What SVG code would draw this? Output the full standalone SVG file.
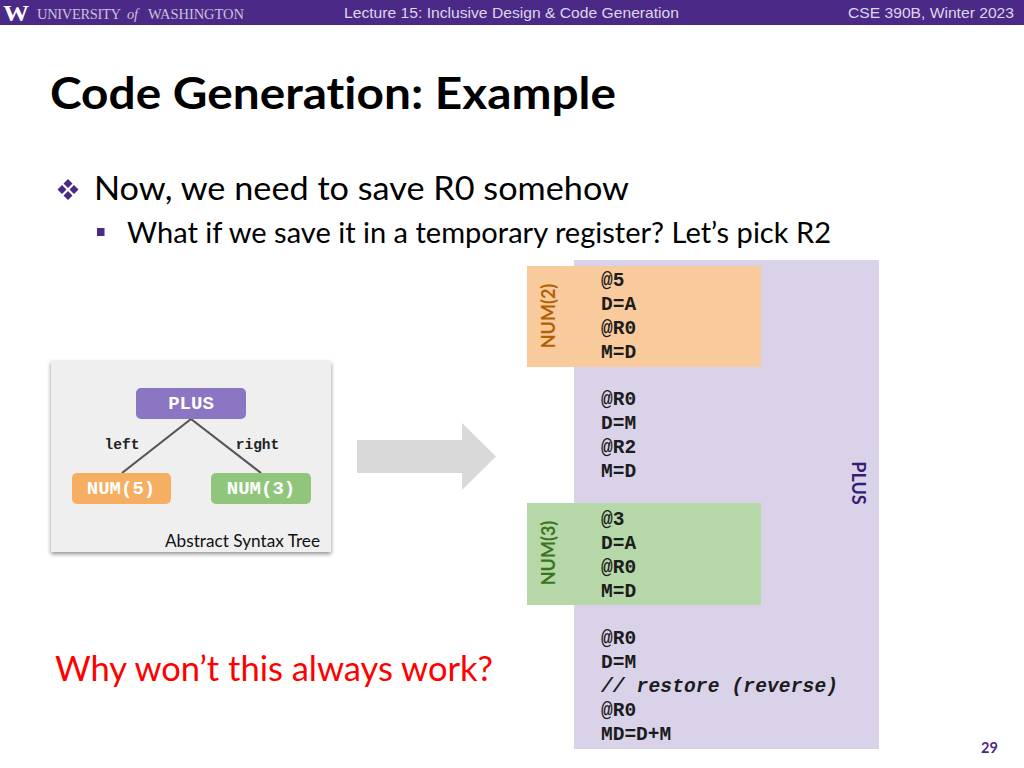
<svg xmlns="http://www.w3.org/2000/svg" width="1024" height="768" viewBox="0 0 1024 768">
<style>
.s{font-family:"Lato","Open Sans","Liberation Sans",sans-serif;font-variant-ligatures:none}
.a{font-family:"Liberation Sans",Arial,sans-serif;font-size:14.5px;fill:#dcd6ea}
.u{font-family:"Liberation Serif",serif;font-size:14.500px;fill:#c9c0dc}
.c{font-family:"Liberation Mono","Courier New",monospace;font-size:19.500px;font-weight:bold;fill:#1c1c1c}
.n{font-family:"Liberation Mono","Courier New",monospace;font-size:19px;font-weight:bold;fill:#fff;text-anchor:middle}
.e{font-family:"Liberation Mono","Courier New",monospace;font-size:14.500px;font-weight:bold;fill:#222;text-anchor:middle}
.v{font-family:"Lato","Open Sans",sans-serif;font-size:18px;font-weight:bold;text-anchor:middle}
</style>
<defs>
<filter id="sh" x="-5%" y="-5%" width="110%" height="110%"><feDropShadow dx="0" dy="2" stdDeviation="2" flood-color="#000" flood-opacity=".45"/></filter>
</defs>
<rect width="1024" height="768" fill="#fff"/>
<g id="header">
<rect width="1024" height="25" fill="#4b2a87"/>
<text x="3" y="21" font-family="Liberation Serif,serif" font-size="23" font-weight="bold" fill="#fff" textLength="26" lengthAdjust="spacingAndGlyphs">W</text>
<text class="u" x="37" y="19" textLength="84">UNIVERSITY</text>
<text class="u" x="127" y="19" font-style="italic" font-size="13" textLength="11">of</text>
<text class="u" x="148" y="19" textLength="96">WASHINGTON</text>
<text class="a" x="344" y="18" textLength="335" lengthAdjust="spacingAndGlyphs">Lecture 15: Inclusive Design &amp; Code Generation</text>
<text class="a" x="848" y="18" textLength="166" lengthAdjust="spacingAndGlyphs">CSE 390B, Winter 2023</text>
</g>
<text class="s" x="50" y="109" font-size="44.500" font-weight="bold" fill="#000" textLength="566" lengthAdjust="spacingAndGlyphs">Code Generation: Example</text>
<g id="bullets" fill="#4b2a87">
<path d="M68 179l4.500 4.500-4.500 4.500-4.500-4.500zM62 185l4.500 4.500-4.500 4.500-4.500-4.500zM74 185l4.500 4.500-4.500 4.500-4.500-4.500zM68 191l4.500 4.500-4.500 4.500-4.500-4.500z"/>
<rect x="97" y="228" width="7.500" height="8"/>
</g>
<text class="s" x="94" y="200" font-size="33" fill="#000" textLength="535" lengthAdjust="spacingAndGlyphs">Now, we need to save R0 somehow</text>
<text class="s" x="127" y="243" font-size="28" fill="#000" textLength="704" lengthAdjust="spacingAndGlyphs">What if we save it in a temporary register? Let’s pick R2</text>

<g id="ast-panel">
<rect x="51" y="361" width="280" height="191" fill="#efefef" filter="url(#sh)"/>
<text class="s" x="165" y="547" font-size="17" fill="#111" textLength="155" lengthAdjust="spacingAndGlyphs">Abstract Syntax Tree</text>
</g>
<g id="connectors" stroke="#555" stroke-width="2.200" fill="none">
<line x1="191" y1="419" x2="122" y2="473"/>
<line x1="191" y1="419" x2="261" y2="473"/>
</g>
<g id="node-plus"><rect x="136" y="388" width="110" height="31" rx="5" fill="#8b76c4"/><text class="n" x="191" y="409">PLUS</text></g>
<g id="node-num5"><rect x="72" y="473" width="99" height="31" rx="5" fill="#f6ae62"/><text class="n" x="121" y="494">NUM(5)</text></g>
<g id="node-num3"><rect x="211" y="473" width="100" height="31" rx="5" fill="#8fc67c"/><text class="n" x="261" y="494">NUM(3)</text></g>
<text class="e" x="122" y="449">left</text>
<text class="e" x="257.500" y="449">right</text>
<path id="big-arrow" d="M357 440H462V423L496 456.500L462 490V473H357Z" fill="#d9d9d9"/>

<g id="code-plus">
<rect x="574" y="260" width="305" height="489" fill="#d9d2e9"/>
<text class="v" transform="translate(852,483) rotate(90)" fill="#351c75">PLUS</text>
</g>
<g id="code-num2">
<rect x="527" y="266" width="234" height="101" fill="#f9cb9c"/>
<text class="v" transform="translate(555,316) rotate(-90)" fill="#b45f06">NUM(2)</text>
</g>
<g id="code-num3">
<rect x="527" y="503" width="234" height="102" fill="#b6d7a8"/>
<text class="v" transform="translate(555,553) rotate(-90)" fill="#38761d">NUM(3)</text>
</g>
<g id="code">
<text class="c" x="601" y="286">@5</text>
<text class="c" x="601" y="310">D=A</text>
<text class="c" x="601" y="334">@R0</text>
<text class="c" x="601" y="358">M=D</text>
<text class="c" x="601" y="405">@R0</text>
<text class="c" x="601" y="429">D=M</text>
<text class="c" x="601" y="453">@R2</text>
<text class="c" x="601" y="477">M=D</text>
<text class="c" x="601" y="525">@3</text>
<text class="c" x="601" y="549">D=A</text>
<text class="c" x="601" y="573">@R0</text>
<text class="c" x="601" y="597">M=D</text>
<text class="c" x="601" y="644">@R0</text>
<text class="c" x="601" y="668">D=M</text>
<text class="c" x="601" y="692" font-style="italic" textLength="237">// restore (reverse)</text>
<text class="c" x="601" y="716">@R0</text>
<text class="c" x="601" y="740">MD=D+M</text>
</g>
<text class="s" x="55" y="681" font-size="34" fill="#f00" textLength="438" lengthAdjust="spacingAndGlyphs">Why won’t this always work?</text>
<text class="s" x="981" y="753" font-size="14.500" font-weight="bold" fill="#4b2a87">29</text>
</svg>
